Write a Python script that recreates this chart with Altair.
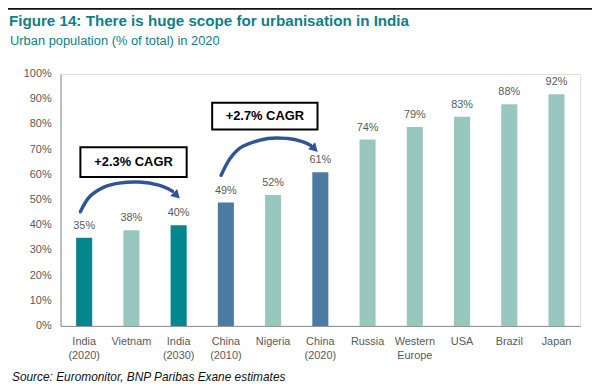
import altair as alt
import pandas as pd

# ---- data ----
categories = ["India|(2020)", "Vietnam", "India|(2030)", "China|(2010)", "Nigeria",
              "China|(2020)", "Russia", "Western|Europe", "USA", "Brazil", "Japan"]
values = [35, 38, 40, 49, 52, 61, 74, 79, 83, 88, 92]
groups = ["India", "Other", "India", "China", "Other", "China",
          "Other", "Other", "Other", "Other", "Other"]
group_names = ["India", "China", "Other"]
group_colors = ["#03878C", "#4C7BA1", "#9AC6C0"]
y_ticks = [0, 10, 20, 30, 40, 50, 60, 70, 80, 90, 100]

# annotation boxes (x in category-index units, y in %)
box_text = ["+2.3% CAGR", "+2.7% CAGR"]
box_x1 = [0.42, 3.21]
box_x2 = [2.67, 5.44]
box_y1 = [59.1, 78.0]
box_y2 = [70.9, 88.6]

# curved arrows (category-index units, %)
arrow1_x = [0.42, 0.61, 0.92, 1.24, 1.66, 2.08, 2.37]
arrow1_y = [45.3, 51.2, 55.1, 56.7, 57.1, 55.9, 53.5]
arrow2_x = [3.40, 3.59, 3.86, 4.39, 4.81, 5.12, 5.29]
arrow2_y = [59.8, 66.5, 71.3, 74.4, 74.4, 73.2, 71.7]
head_x = [2.46, 5.38]
head_y = [51.8, 70.3]

title = "Figure 14: There is huge scope for urbanisation in India"
subtitle = "Urban population (% of total) in 2020"
source = "Source: Euromonitor, BNP Paribas Exane estimates"

FONT = "Liberation Sans"
TEAL = "#0E8088"

# ---- tables ----
bars_df = pd.DataFrame({"cat": categories, "value": values, "grp": groups,
                        "lbl": [f"{v}%" for v in values]})
ticks_df = pd.DataFrame({"value": y_ticks, "lbl": [f"{v}%" for v in y_ticks]})
box_df = pd.DataFrame({"t": box_text, "x1": box_x1, "x2": box_x2,
                       "value": box_y1, "value2": box_y2,
                       "xc": [(a + b) / 2 for a, b in zip(box_x1, box_x2)],
                       "yc": [(a + b) / 2 for a, b in zip(box_y1, box_y2)]})
arrow_rows = []
for aid, (xs, ys) in enumerate([(arrow1_x, arrow1_y), (arrow2_x, arrow2_y)]):
    for i, (xv, yv) in enumerate(zip(xs, ys)):
        arrow_rows.append({"aid": aid, "o": i, "xi": xv, "value": yv})
arrow_df = pd.DataFrame(arrow_rows)
head_df = pd.DataFrame({"xi": head_x, "value": head_y})

yscale = alt.Scale(domain=[0, 100], nice=False)
qscale = alt.Scale(domain=[0, 11], nice=False, zero=False)

xband = alt.X("cat:N", sort=categories,
              scale=alt.Scale(paddingInner=0.66, paddingOuter=0.33),
              axis=alt.Axis(title=None, labelAngle=0, labelExpr="split(datum.label, '|')",
                            labelPadding=10, labelLineHeight=14, labelFontSize=11,
                            labelColor="#595959", ticks=False, domainColor="#8c8c8c"))
ybar = alt.Y("value:Q", scale=yscale,
             axis=alt.Axis(title=None, labels=False, ticks=False, grid=False,
                           domainColor="#8c8c8c"))

base = alt.Chart(bars_df)
bars = base.mark_bar().encode(
    x=xband, y=ybar,
    color=alt.Color("grp:N", scale=alt.Scale(domain=group_names, range=group_colors), legend=None))
labels = base.mark_text(dy=-9, baseline="alphabetic", fontSize=11, color="#595959", font=FONT).encode(
    x=xband, y=ybar, text="lbl:N")
tick_labels = alt.Chart(ticks_df).mark_text(align="right", baseline="middle", fontSize=11,
                                            color="#595959", font=FONT).encode(
    x=alt.value(-9), y=ybar, text="lbl:N")
main = alt.layer(bars, labels, tick_labels)

boxes = alt.Chart(box_df).mark_rect(fill="white", stroke="black", strokeWidth=2).encode(
    x=alt.X("x1:Q", scale=qscale, axis=None),
    x2="x2:Q", y=alt.Y("value:Q", scale=yscale, axis=None), y2="value2:Q")
box_labels = alt.Chart(box_df).mark_text(fontSize=13, fontWeight="bold", color="black",
                                         font=FONT, baseline="middle").encode(
    x=alt.X("xc:Q", scale=qscale, axis=None),
    y=alt.Y("yc:Q", scale=yscale, axis=None), text="t:N")
arrows = alt.Chart(arrow_df).mark_line(interpolate="cardinal", strokeWidth=3.5,
                                       color="#2F5597", strokeCap="round").encode(
    x=alt.X("xi:Q", scale=qscale, axis=None),
    y=alt.Y("value:Q", scale=yscale, axis=None), detail="aid:N", order="o:Q")
heads = alt.Chart(head_df).mark_point(shape="triangle-right", filled=True, size=100,
                                      angle=45, color="#2F5597", opacity=1).encode(
    x=alt.X("xi:Q", scale=qscale, axis=None),
    y=alt.Y("value:Q", scale=yscale, axis=None))
annot = alt.layer(boxes, box_labels, arrows, heads)

one = pd.DataFrame({"t": [title]})
top_line = alt.Chart(one).mark_rule(color="#111111", strokeWidth=2.2).encode(
    x=alt.value(-53), x2=alt.value(536), y=alt.value(-66))
title_t = alt.Chart(pd.DataFrame({"t": [title]})).mark_text(
    align="left", baseline="alphabetic", fontSize=15.3, fontWeight="bold", color=TEAL, font=FONT
).encode(x=alt.value(-52), y=alt.value(-48), text="t:N")
sub_t = alt.Chart(pd.DataFrame({"t": [subtitle]})).mark_text(
    align="left", baseline="alphabetic", fontSize=13, color=TEAL, font=FONT
).encode(x=alt.value(-51), y=alt.value(-29), text="t:N")
src_t = alt.Chart(pd.DataFrame({"t": [source]})).mark_text(
    align="left", baseline="alphabetic", fontSize=12, fontStyle="italic", color="#111111", font=FONT
).encode(x=alt.value(-49), y=alt.value(310), text="t:N")

chart = alt.layer(
    main, annot, top_line, title_t, sub_t, src_t
).resolve_scale(x="independent", y="independent").properties(
    width=524, height=254,
    padding={"left": 53, "top": 65, "right": 14, "bottom": 60},
    autosize=alt.AutoSizeParams(type="none"),
).configure_view(stroke=None).configure(font=FONT)

chart.save("out.html", embed_options={"renderer": "svg", "actions": False})
